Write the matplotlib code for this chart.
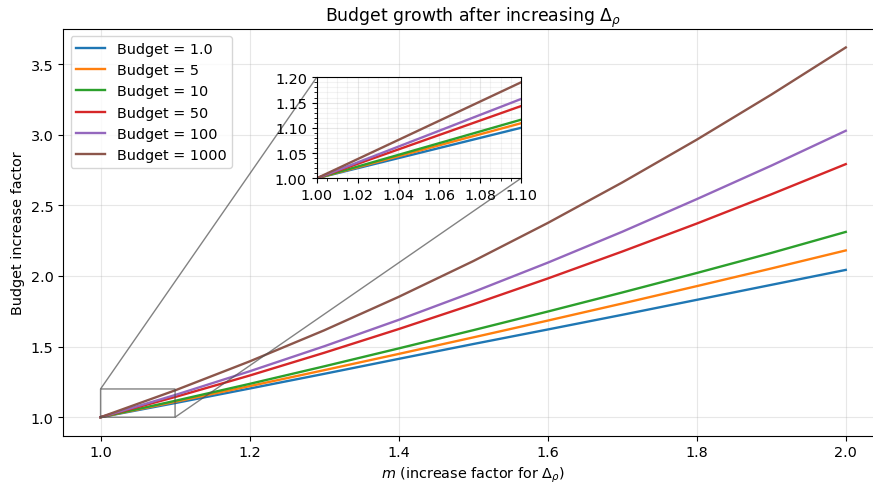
import numpy as np
import matplotlib
matplotlib.use("Agg")
import matplotlib.pyplot as plt

plt.rcParams["font.size"] = 10.4

# increase factor m for delta_rho
m = [1.0, 1.1, 1.2, 1.3, 1.4, 1.5, 1.6, 1.7, 1.8, 1.9, 2.0]

budgets = ["1.0", "5", "10", "50", "100", "1000"]
growth_b1 = [1.0, 1.100, 1.203, 1.307, 1.413, 1.518, 1.621, 1.725, 1.831, 1.937, 2.043]
growth_b5 = [1.0, 1.109, 1.220, 1.333, 1.448, 1.565, 1.684, 1.805, 1.928, 2.053, 2.181]
growth_b10 = [1.0, 1.116, 1.236, 1.360, 1.487, 1.616, 1.748, 1.883, 2.021, 2.163, 2.312]
growth_b50 = [1.0, 1.143, 1.295, 1.456, 1.624, 1.799, 1.982, 2.173, 2.371, 2.578, 2.792]
growth_b100 = [1.0, 1.157, 1.325, 1.502, 1.689, 1.886, 2.094, 2.313, 2.544, 2.781, 3.028]
growth_b1000 = [1.0, 1.190, 1.395, 1.615, 1.852, 2.105, 2.375, 2.662, 2.965, 3.284, 3.618]
growth = [growth_b1, growth_b5, growth_b10, growth_b50, growth_b100, growth_b1000]

fig = plt.figure(figsize=(8.73, 4.85), dpi=100)
ax = fig.add_axes([0.0725, 0.0996, 0.939, 0.8386])

for b, g in zip(budgets, growth):
    ax.plot(m, g, lw=1.7, label=f"Budget = {b}")

ax.grid(True, alpha=0.3)
ax.set_title(r"Budget growth after increasing $\Delta_\rho$", fontsize=12.4)
ax.set_xlabel(r"$m$ (increase factor for $\Delta_\rho$)")
ax.set_ylabel("Budget increase factor")
ax.legend(loc="upper left")

# zoomed view of the start
axins = ax.inset_axes([316.7 / 873, 305.7 / 485, 204.3 / 873, 101 / 485],
                      transform=fig.transFigure)
for g in growth:
    axins.plot(m, g, lw=1.7)
axins.set_xlim(1.0, 1.1)
axins.set_ylim(1.0, 1.2)
axins.set_xticks([1.00, 1.02, 1.04, 1.06, 1.08, 1.10])
axins.set_yticks([1.00, 1.05, 1.10, 1.15, 1.20])
axins.minorticks_on()
axins.grid(True, which="major", alpha=0.3)
axins.grid(True, which="minor", alpha=0.15)
ax.indicate_inset_zoom(axins, edgecolor="0.3", alpha=0.7)

fig.savefig("out.png", dpi=100)
